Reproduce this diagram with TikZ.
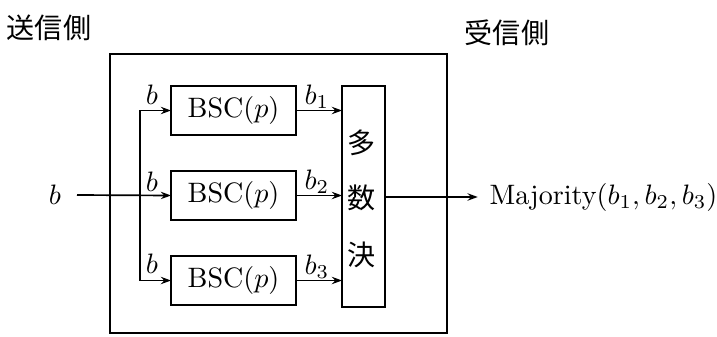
\documentclass[tikz,border=0pt]{standalone}
\usepackage{fontspec}
\newfontfamily\jp{Noto Sans CJK JP}
\usetikzlibrary{arrows.meta}
\begin{document}
\begin{tikzpicture}[x=0.356pt,y=-0.356pt,
  box/.style={draw,line width=0.75pt,inner sep=0pt,outer sep=0pt},
  bsc/.style={box,minimum width=44.5pt,minimum height=17.4pt},
  arr/.style={-{Stealth[length=3.6pt,width=2.6pt]},line width=0.6pt},
  lbl/.style={inner sep=0pt}]
\useasboundingbox (0,0) rectangle (717,336);
% outer frame
\node[box,minimum width=120pt,minimum height=99.3pt] (outer) at (278.5,193.5) {};
% side labels
\node[lbl,font=\jp] (send) at (49,28) {送信側};
\node[lbl,font=\jp] (recv) at (507,33) {受信側};
% channel boxes
\node[bsc] (bsc1) at (233.5,110.5) {BSC$(p)$};
\node[bsc] (bsc2) at (233.5,195.5) {BSC$(p)$};
\node[bsc] (bsc3) at (233.5,280.5) {BSC$(p)$};
% majority box
\node[box,minimum width=15.3pt,minimum height=78.7pt] (maj) at (363.5,196.5) {};
\node[lbl,font=\jp] (c1) at (362,143) {多};
\node[lbl,font=\jp] (c2) at (362,198) {数};
\node[lbl,font=\jp] (c3) at (362,255) {決};
% input / output
\node[lbl] (bin) at (55,195) {$b$};
\coordinate (in) at (77,195);
\coordinate (split) at (140,195);
\node[lbl,anchor=west] (out) at (489,197) {Majority$(b_1,b_2,b_3)$};
% connectors
\draw[arr] (in) -- (bsc2.west);
\draw[arr] (split) |- (bsc1.west);
\draw[arr] (split) |- (bsc3.west);
\draw[arr] (bsc1.east) -- (bsc1.east -| maj.west);
\draw[arr] (bsc2.east) -- (bsc2.east -| maj.west);
\draw[arr] (bsc3.east) -- (bsc3.east -| maj.west);
\draw[arr,shorten >=4pt] (maj.east |- out.west) -- (out.west);
% labels on arrows
\node[lbl] (l1) at (152,95) {$b$};
\node[lbl] (l2) at (152,182) {$b$};
\node[lbl] (l3) at (152,264) {$b$};
\node[lbl] (o1) at (317,97) {$b_1$};
\node[lbl] (o2) at (317,182) {$b_2$};
\node[lbl] (o3) at (317,267) {$b_3$};
\end{tikzpicture}
\end{document}
